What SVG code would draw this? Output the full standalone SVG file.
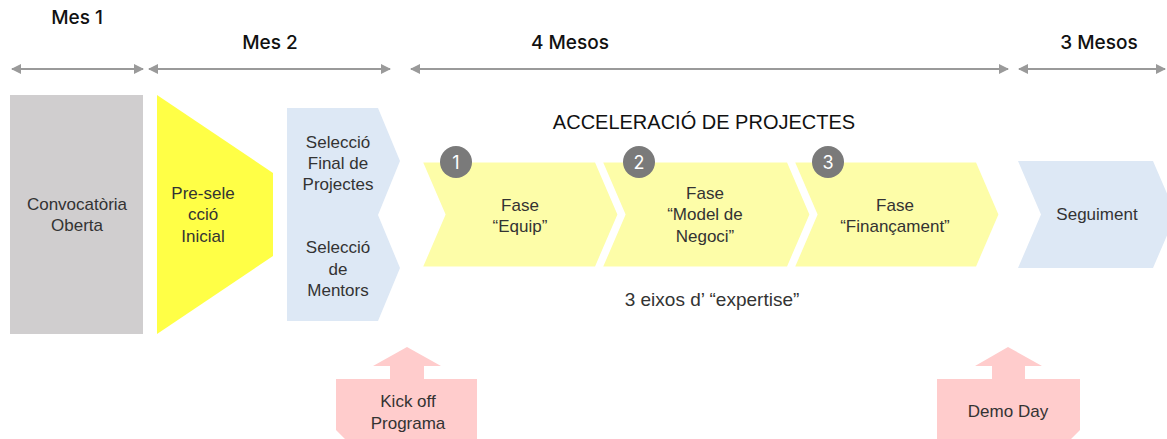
<svg xmlns="http://www.w3.org/2000/svg" width="1167" height="439" viewBox="0 0 1167 439">
<style>
.hdr{font-family:Inter,"Liberation Sans",sans-serif;font-weight:500;font-size:19px;fill:#111;text-anchor:middle}
.t{font-family:"Liberation Sans",Arial,sans-serif;font-size:17px;fill:#333;text-anchor:middle}
.big{font-family:"Liberation Sans",Arial,sans-serif;font-size:20px;fill:#111;text-anchor:middle}
.tl{stroke:#9a9a9a;stroke-width:2;fill:none;marker-start:url(#ah);marker-end:url(#ah)}
.chev{fill:#fdfda8;stroke:#fff;stroke-width:3}
.num{fill:#7a7a7a}
.numt{font-family:Inter,"Liberation Sans",sans-serif;font-size:18px;fill:#fff;text-anchor:middle}
.pink{fill:#ffcccc}
</style>
<defs>
<marker id="ah" viewBox="0 0 10 10" refX="9" refY="5" markerWidth="5" markerHeight="5" orient="auto-start-reverse">
<path d="M0,0 L10,5 L0,10 z" fill="#9a9a9a"/>
</marker>
</defs>
<rect width="1167" height="439" fill="#fff"/>

<g id="timeline">
<text class="hdr" x="77" y="24">Mes 1</text>
<text class="hdr" x="270" y="49">Mes 2</text>
<text class="hdr" x="570" y="49">4 Mesos</text>
<text class="hdr" x="1099" y="49">3 Mesos</text>
</g>

<g id="connectors">
<line class="tl" x1="12" y1="69" x2="143" y2="69"/>
<line class="tl" x1="149" y1="69" x2="390" y2="69"/>
<line class="tl" x1="411" y1="69" x2="1008" y2="69"/>
<line class="tl" x1="1019" y1="69" x2="1165" y2="69"/>
</g>

<g id="convocatoria">
<rect x="10" y="95" width="133" height="239" fill="#d0cecf"/>
<text class="t" x="77" y="210">Convocatòria</text>
<text class="t" x="77" y="231">Oberta</text>
</g>

<g id="preseleccio">
<polygon points="157,95 273,173 273,256 157,334" fill="#ffff46"/>
<text class="t" x="203" y="199">Pre-sele</text>
<text class="t" x="203" y="220">cció</text>
<text class="t" x="203" y="242">Inicial</text>
</g>

<g id="seleccio">
<polygon points="287,108 378,108 400,161 378,215 400,268 378,321 287,321" fill="#dde8f5"/>
<text class="t" x="338" y="148">Selecció</text>
<text class="t" x="338" y="169">Final de</text>
<text class="t" x="338" y="190">Projectes</text>
<text class="t" x="338" y="253">Selecció</text>
<text class="t" x="338" y="275">de</text>
<text class="t" x="338" y="296">Mentors</text>
</g>

<text class="big" x="704" y="129">ACCELERACIÓ DE PROJECTES</text>

<g id="fase1">
<polygon class="chev" points="421,161 596,161 619,214.5 596,268 421,268 444,214.5"/>
<text class="t" x="520" y="211">Fase</text>
<text class="t" x="520" y="232">“Equip”</text>
</g>
<g id="fase2">
<polygon class="chev" points="601,161 788,161 811,214.5 788,268 601,268 624,214.5"/>
<text class="t" x="705" y="199">Fase</text>
<text class="t" x="705" y="220">“Model de</text>
<text class="t" x="705" y="242">Negoci”</text>
</g>
<g id="fase3">
<polygon class="chev" points="793,161 977,161 1000,214.5 977,268 793,268 816,214.5"/>
<text class="t" x="895" y="211">Fase</text>
<text class="t" x="895" y="232">“Finançament”</text>
</g>

<g id="num1"><circle class="num" cx="456" cy="162" r="16"/><text class="numt" x="456" y="168.5">1</text></g>
<g id="num2"><circle class="num" cx="639" cy="162" r="16"/><text class="numt" x="639" y="168.5">2</text></g>
<g id="num3"><circle class="num" cx="828" cy="162" r="16"/><text class="numt" x="828" y="168.5">3</text></g>

<g id="seguiment">
<polygon points="1018,161 1153,161 1176,214.5 1153,268 1018,268 1041,214.5" fill="#dde8f5"/>
<text class="t" x="1097" y="220">Seguiment</text>
</g>

<text class="t" x="712" y="306" style="font-size:19px">3 eixos d’ “expertise”</text>

<g id="kickoff">
<polygon class="pink" points="407,347 441,366 424,366 424,379 477,379 477,439 345,439 336,430 336,379 390,379 390,366 373,366"/>
<text class="t" x="408" y="407">Kick off</text>
<text class="t" x="408" y="429">Programa</text>
</g>

<g id="demoday">
<polygon class="pink" points="1008,347 1042,366 1025,366 1025,379 1080,379 1080,430 1071,439 937,439 937,379 992,379 992,366 975,366"/>
<text class="t" x="1008" y="417">Demo Day</text>
</g>
</svg>
